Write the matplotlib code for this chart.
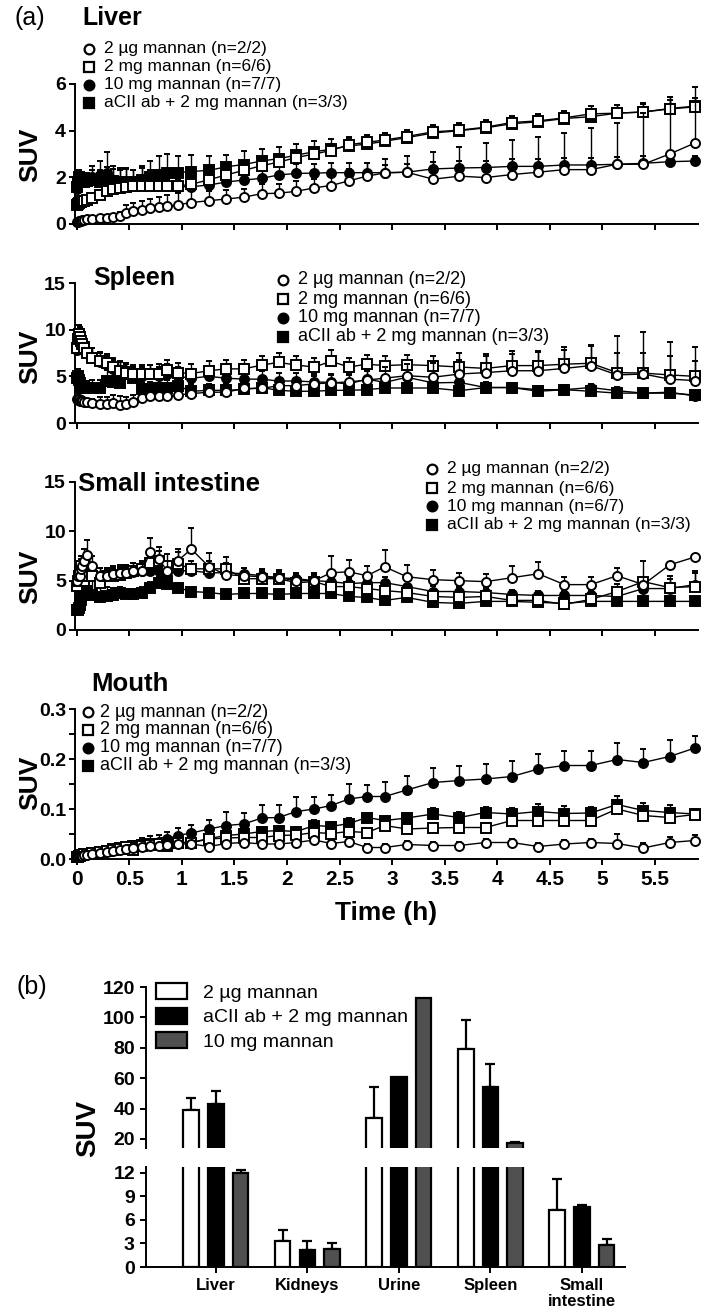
import numpy as np
import matplotlib
matplotlib.use("Agg")
import matplotlib.pyplot as plt
from matplotlib.lines import Line2D

# time points (h) shared by the four time-activity panels
t = [0.0, 0.01, 0.02, 0.03, 0.04, 0.05, 0.07, 0.10, 0.15, 0.22, 0.29, 0.35, 0.41, 0.47, 0.54,
     0.62, 0.70, 0.78, 0.86, 0.96, 1.09, 1.26, 1.42, 1.59, 1.76, 1.92, 2.09, 2.26, 2.42, 2.59,
     2.76, 2.93, 3.14, 3.39, 3.64, 3.89, 4.14, 4.39, 4.64, 4.89, 5.14, 5.39, 5.64, 5.88]

# Liver
liv_2ug = [0.08, 0.10, 0.12, 0.14, 0.15, 0.17, 0.18, 0.20, 0.22, 0.25, 0.27, 0.30, 0.35, 0.47, 0.54,
           0.60, 0.67, 0.72, 0.76, 0.82, 0.92, 1.00, 1.07, 1.15, 1.30, 1.32, 1.40, 1.55, 1.65, 1.85,
           2.05, 2.19, 2.22, 1.92, 2.05, 1.99, 2.12, 2.22, 2.33, 2.33, 2.56, 2.56, 3.00, 3.47]
liv_2ug_err = [0, 0, 0, 0, 0, 0, 0, 0.02, 0.05, 0.05, 0.1, 0.1, 0.15, 0.35, 0.35,
               0.4, 0.4, 0.45, 0.5, 0.5, 0.5, 0.4, 0.4, 0.35, 0.4, 0.4, 0.45, 0.4, 0.45, 0.5,
               0.55, 0.6, 0.7, 1.16, 1.25, 1.5, 1.47, 1.5, 1.57, 1.8, 1.78, 2.2, 2.45, 2.4]
liv_2mg = [0.80, 0.85, 0.90, 0.95, 0.95, 1.00, 1.00, 1.05, 1.10, 1.25, 1.40, 1.50, 1.55, 1.60, 1.62,
           1.65, 1.65, 1.62, 1.62, 1.63, 1.70, 1.90, 2.10, 2.30, 2.50, 2.65, 2.85, 3.00, 3.15, 3.40,
           3.50, 3.60, 3.75, 3.95, 4.02, 4.15, 4.35, 4.42, 4.55, 4.72, 4.75, 4.80, 4.93, 5.02]
liv_2mg_err = [0.1, 0.1, 0.1, 0.1, 0.1, 0.1, 0.1, 0.1, 0.15, 0.2, 0.2, 0.25, 0.25, 0.3, 0.3,
               0.3, 0.3, 0.3, 0.3, 0.3, 0.3, 0.3, 0.3, 0.3, 0.3, 0.3, 0.3, 0.3, 0.3, 0.3,
               0.3, 0.3, 0.3, 0.3, 0.3, 0.3, 0.3, 0.3, 0.3, 0.35, 0.35, 0.35, 0.4, 0.4]
liv_10mg = [1.50, 1.70, 1.80, 1.90, 1.85, 1.90, 1.85, 1.90, 2.00, 2.10, 2.20, 1.90, 1.80, 1.75, 1.70,
            1.70, 1.70, 1.65, 1.65, 1.60, 1.60, 1.67, 1.80, 1.88, 1.96, 2.10, 2.17, 2.18, 2.20, 2.20,
            2.20, 2.20, 2.22, 2.36, 2.40, 2.42, 2.47, 2.47, 2.53, 2.53, 2.56, 2.60, 2.67, 2.70]
liv_10mg_err = [0.3, 0.3, 0.3, 0.3, 0.3, 0.3, 0.3, 0.3, 0.5, 0.6, 0.9, 0.6, 0.6, 0.6, 0.6,
                0.7, 0.6, 0.6, 0.5, 0.6, 0.6, 0.5, 0.5, 0.5, 0.4, 0.4, 0.4, 0.4, 0.4, 0.4,
                0.4, 0.35, 0.35, 0.3, 0.3, 0.3, 0.3, 0.3, 0.3, 0.3, 0.3, 0.3, 0.25, 0.2]
liv_acii = [1.60, 1.80, 2.00, 1.90, 1.80, 1.90, 1.80, 1.85, 1.90, 1.80, 1.85, 1.85, 1.80, 1.80, 1.80,
            1.90, 2.00, 2.10, 2.20, 2.20, 2.25, 2.30, 2.45, 2.55, 2.70, 2.80, 2.95, 3.10, 3.20, 3.35,
            3.42, 3.55, 3.70, 3.90, 4.00, 4.12, 4.30, 4.38, 4.52, 4.60, 4.75, 4.80, 4.95, 5.05]
liv_acii_err = [0.3, 0.3, 0.3, 0.3, 0.3, 0.3, 0.3, 0.3, 0.4, 0.5, 0.6, 0.5, 0.5, 0.6, 0.5,
                0.6, 0.7, 0.8, 0.8, 0.7, 0.7, 0.6, 0.5, 0.6, 0.5, 0.5, 0.5, 0.45, 0.45, 0.4,
                0.4, 0.35, 0.35, 0.3, 0.3, 0.3, 0.3, 0.3, 0.3, 0.35, 0.35, 0.4, 0.5, 0.35]

# Spleen
spl_2ug = [2.6, 2.5, 2.6, 2.4, 2.5, 2.4, 2.3, 2.3, 2.1, 2.0, 2.0, 2.1, 1.9, 2.0, 2.2,
           2.7, 2.85, 2.85, 2.9, 3.0, 3.15, 3.3, 3.3, 3.7, 3.7, 4.0, 4.0, 4.2, 4.3, 4.4,
           4.6, 4.8, 5.07, 4.9, 5.25, 5.4, 5.6, 5.6, 5.85, 6.15, 5.15, 5.25, 4.7, 4.55]
spl_2ug_err = [0.3, 0.3, 0.3, 0.3, 0.3, 0.3, 0.3, 0.3, 0.5, 0.8, 0.8, 0.9, 1.0, 0.8, 0.8,
               0.6, 0.5, 0.5, 0.5, 0.5, 0.5, 0.5, 0.6, 0.6, 0.6, 0.6, 0.7, 0.8, 0.8, 0.9,
               1.0, 1.2, 1.2, 1.5, 1.5, 1.8, 1.8, 2.0, 2.0, 2.2, 4.2, 4.45, 4.0, 3.6]
spl_2mg = [8.0, 9.0, 9.5, 9.2, 8.8, 8.5, 8.0, 7.5, 7.0, 6.6, 6.4, 6.0, 5.6, 5.4, 5.2,
           5.2, 5.2, 5.3, 5.7, 5.4, 5.3, 5.6, 5.8, 5.8, 6.2, 6.5, 6.2, 6.0, 6.6, 6.0,
           6.3, 6.15, 6.25, 6.15, 6.0, 5.85, 6.15, 6.15, 6.3, 6.4, 5.4, 5.35, 5.15, 5.0]
spl_2mg_err = [1.0, 1.0, 1.0, 1.0, 1.0, 1.0, 1.0, 1.0, 1.0, 1.0, 1.0, 1.0, 1.0, 1.0, 1.0,
               1.0, 1.0, 1.0, 1.0, 1.0, 1.0, 1.0, 1.0, 1.0, 1.0, 1.0, 1.0, 1.0, 1.2, 1.0,
               1.0, 1.0, 1.0, 1.0, 1.5, 1.5, 1.6, 1.6, 1.8, 1.8, 2.1, 2.1, 2.0, 1.6]
spl_10mg = [7.8, 8.5, 9.0, 8.8, 8.5, 8.0, 7.8, 7.5, 7.0, 6.5, 6.2, 5.8, 5.5, 5.3, 5.0,
            5.0, 5.2, 5.0, 5.3, 5.0, 4.8, 5.0, 4.8, 4.7, 4.7, 4.5, 4.5, 4.4, 4.35, 4.2,
            4.7, 4.35, 4.9, 4.3, 4.35, 3.8, 3.8, 3.57, 3.57, 3.8, 3.46, 3.2, 3.3, 2.9]
spl_10mg_err = [1.5, 1.5, 1.5, 1.5, 1.5, 1.5, 1.2, 1.2, 1.0, 1.0, 1.0, 1.0, 1.0, 1.0, 1.0,
                1.0, 1.0, 1.0, 1.0, 1.0, 1.0, 1.0, 1.0, 1.0, 0.9, 0.9, 0.9, 0.9, 0.9, 0.9,
                0.9, 0.8, 0.8, 0.8, 0.6, 0.5, 0.5, 0.4, 0.4, 0.4, 0.4, 0.3, 0.3, 0.3]
spl_acii = [4.8, 5.0, 4.6, 4.3, 4.0, 3.8, 3.7, 3.7, 3.8, 3.8, 4.5, 4.4, 4.3, 5.5, 4.8,
            3.6, 3.6, 3.8, 3.8, 4.0, 3.4, 3.5, 3.5, 3.6, 3.8, 3.5, 3.4, 3.4, 3.5, 3.5,
            3.57, 3.75, 3.75, 3.75, 3.46, 3.8, 3.8, 3.4, 3.57, 3.4, 3.2, 3.2, 3.2, 3.0]
spl_acii_err = [0.8, 0.8, 0.8, 0.8, 0.8, 0.8, 0.8, 0.8, 0.8, 0.8, 1.2, 1.0, 1.0, 0.8, 1.2,
                0.8, 0.8, 0.8, 0.8, 0.8, 0.8, 0.7, 0.7, 0.7, 0.7, 0.7, 0.7, 0.7, 0.7, 0.7,
                0.6, 0.6, 0.6, 0.6, 0.6, 0.6, 0.5, 0.5, 0.5, 0.5, 0.4, 0.4, 0.4, 0.4]

# Small intestine
si_2ug = [5.0, 5.5, 6.0, 5.5, 6.2, 6.5, 7.0, 7.6, 6.5, 5.5, 5.5, 5.7, 5.8, 5.8, 6.0,
          6.0, 7.9, 7.2, 6.0, 7.0, 8.2, 6.4, 5.6, 5.5, 5.4, 5.3, 5.0, 5.0, 5.8, 5.9,
          5.5, 6.4, 5.4, 5.1, 5.0, 4.9, 5.3, 5.7, 4.6, 4.6, 5.5, 4.6, 6.6, 7.4]
si_2ug_err = [1.0, 1.0, 1.0, 1.0, 1.0, 1.0, 1.2, 1.5, 1.0, 0.8, 0.8, 0.8, 0.8, 0.8, 0.8,
              0.8, 1.4, 1.2, 1.0, 1.2, 2.1, 1.4, 1.2, 0.8, 0.8, 0.8, 0.8, 0.8, 1.7, 1.2,
              1.0, 1.7, 1.2, 1.0, 0.8, 0.8, 1.2, 1.2, 0.8, 0.8, 0.8, 0.8, 0.0, 0.0]
si_2mg = [4.5, 5.0, 5.5, 6.0, 6.5, 5.5, 5.0, 5.5, 5.5, 4.8, 5.5, 5.5, 5.6, 5.8, 6.0,
          6.2, 6.8, 7.0, 6.5, 6.7, 6.2, 6.2, 6.2, 5.2, 5.2, 5.2, 4.8, 4.9, 4.4, 4.4,
          4.2, 4.0, 3.8, 3.4, 3.3, 3.4, 3.0, 3.0, 2.6, 3.1, 3.9, 4.9, 4.3, 4.4]
si_2mg_err = [1.0, 1.0, 1.0, 1.0, 1.0, 1.0, 1.0, 1.0, 1.0, 1.0, 0.8, 0.8, 0.8, 0.8, 0.8,
              0.8, 1.0, 1.0, 1.2, 1.2, 0.8, 0.8, 1.2, 0.8, 0.8, 0.8, 0.8, 0.8, 0.8, 0.8,
              0.8, 0.8, 0.8, 0.8, 0.6, 0.6, 0.6, 0.6, 0.6, 0.6, 0.8, 2.1, 1.2, 1.4]
si_10mg = [4.5, 5.0, 5.5, 5.0, 5.5, 5.0, 5.5, 6.0, 5.8, 5.5, 5.5, 5.5, 5.6, 5.8, 5.9,
           6.0, 6.0, 6.0, 5.5, 6.0, 6.0, 5.8, 5.8, 5.7, 5.5, 5.3, 5.2, 5.0, 4.9, 4.7,
           4.8, 4.8, 4.4, 3.9, 3.9, 3.8, 3.6, 3.5, 3.5, 3.5, 3.4, 4.2, 4.2, 4.6]
si_10mg_err = [1.0, 1.0, 1.0, 1.0, 1.0, 1.0, 1.0, 1.0, 0.8, 0.8, 0.6, 0.6, 0.6, 0.6, 0.6,
               0.6, 0.8, 0.8, 0.8, 0.6, 0.6, 0.6, 0.6, 0.6, 0.6, 0.6, 0.6, 0.6, 0.6, 0.6,
               0.6, 0.6, 0.6, 0.6, 0.5, 0.5, 0.5, 0.5, 0.5, 0.5, 0.5, 0.8, 1.0, 1.4]
si_acii = [2.0, 2.0, 2.2, 2.5, 3.0, 4.0, 3.5, 4.0, 3.5, 3.3, 3.4, 3.5, 3.8, 3.6, 3.6,
           3.8, 4.3, 4.8, 4.7, 4.3, 3.9, 3.8, 3.6, 3.7, 3.7, 3.6, 3.7, 3.7, 3.7, 3.4,
           3.3, 3.0, 3.3, 2.8, 2.7, 2.9, 2.9, 2.8, 2.7, 2.9, 2.9, 2.9, 2.9, 2.9]
si_acii_err = [0.5, 0.5, 0.5, 0.5, 0.8, 0.8, 0.8, 0.8, 1.5, 1.2, 1.0, 0.8, 0.6, 0.6, 0.6,
               0.6, 0.6, 0.6, 0.6, 0.5, 0.5, 0.5, 0.5, 0.5, 0.5, 0.5, 0.5, 0.5, 0.5, 0.5,
               0.5, 0.5, 0.5, 0.4, 0.4, 0.4, 0.4, 0.4, 0.4, 0.4, 0.4, 0.4, 0.4, 0.4]

# Mouth
mo_2ug = [0.005, 0.005, 0.006, 0.006, 0.007, 0.007, 0.008, 0.009, 0.010, 0.012, 0.014, 0.016, 0.018, 0.020, 0.022,
          0.024, 0.026, 0.027, 0.028, 0.030, 0.030, 0.025, 0.031, 0.033, 0.030, 0.030, 0.033, 0.038, 0.031, 0.035,
          0.023, 0.023, 0.029, 0.027, 0.027, 0.033, 0.033, 0.025, 0.030, 0.033, 0.031, 0.022, 0.033, 0.037]
mo_2ug_err = [0.002, 0.002, 0.002, 0.002, 0.002, 0.002, 0.002, 0.002, 0.003, 0.003, 0.003, 0.004, 0.004, 0.004, 0.005,
              0.005, 0.005, 0.005, 0.005, 0.006, 0.006, 0.006, 0.006, 0.006, 0.006, 0.006, 0.006, 0.006, 0.007, 0.007,
              0.007, 0.007, 0.007, 0.007, 0.008, 0.008, 0.008, 0.008, 0.008, 0.008, 0.020, 0.010, 0.012, 0.012]
mo_2mg = [0.004, 0.005, 0.006, 0.007, 0.008, 0.009, 0.010, 0.011, 0.013, 0.015, 0.017, 0.019, 0.021, 0.024, 0.018,
          0.026, 0.028, 0.030, 0.026, 0.033, 0.033, 0.040, 0.042, 0.043, 0.043, 0.047, 0.048, 0.053, 0.051, 0.055,
          0.053, 0.067, 0.060, 0.062, 0.063, 0.063, 0.077, 0.077, 0.077, 0.077, 0.100, 0.087, 0.083, 0.089]
mo_2mg_err = [0.002, 0.002, 0.002, 0.002, 0.002, 0.002, 0.002, 0.002, 0.003, 0.003, 0.004, 0.004, 0.005, 0.005, 0.005,
              0.006, 0.006, 0.006, 0.006, 0.007, 0.007, 0.008, 0.008, 0.008, 0.008, 0.009, 0.009, 0.009, 0.010, 0.010,
              0.010, 0.010, 0.010, 0.010, 0.010, 0.010, 0.010, 0.010, 0.010, 0.010, 0.012, 0.012, 0.012, 0.012]
mo_10mg = [0.005, 0.006, 0.006, 0.007, 0.008, 0.008, 0.009, 0.010, 0.012, 0.014, 0.017, 0.020, 0.023, 0.025, 0.027,
           0.030, 0.033, 0.035, 0.040, 0.047, 0.052, 0.060, 0.067, 0.070, 0.082, 0.083, 0.095, 0.100, 0.107, 0.120,
           0.125, 0.125, 0.138, 0.153, 0.157, 0.160, 0.165, 0.180, 0.187, 0.187, 0.199, 0.193, 0.205, 0.222]
mo_10mg_err = [0.002, 0.002, 0.002, 0.002, 0.002, 0.002, 0.002, 0.003, 0.004, 0.005, 0.006, 0.007, 0.008, 0.009, 0.010,
               0.012, 0.013, 0.014, 0.015, 0.015, 0.017, 0.018, 0.027, 0.022, 0.026, 0.025, 0.030, 0.025, 0.022, 0.030,
               0.023, 0.030, 0.029, 0.030, 0.029, 0.030, 0.032, 0.030, 0.030, 0.030, 0.033, 0.027, 0.033, 0.025]
mo_acii = [0.004, 0.005, 0.006, 0.007, 0.008, 0.009, 0.010, 0.011, 0.013, 0.015, 0.017, 0.020, 0.022, 0.024, 0.026,
           0.028, 0.030, 0.031, 0.032, 0.033, 0.033, 0.041, 0.047, 0.050, 0.055, 0.057, 0.055, 0.067, 0.065, 0.071,
           0.083, 0.077, 0.082, 0.090, 0.083, 0.093, 0.090, 0.095, 0.091, 0.092, 0.109, 0.097, 0.093, 0.090]
mo_acii_err = [0.002, 0.002, 0.002, 0.002, 0.002, 0.002, 0.002, 0.002, 0.003, 0.003, 0.004, 0.004, 0.005, 0.005, 0.006,
               0.006, 0.006, 0.006, 0.007, 0.007, 0.008, 0.009, 0.009, 0.010, 0.010, 0.010, 0.010, 0.012, 0.010, 0.012,
               0.010, 0.010, 0.010, 0.012, 0.012, 0.012, 0.012, 0.015, 0.015, 0.012, 0.018, 0.015, 0.015, 0.010]

# panel (b): SUV at end of scan
organs = ["Liver", "Kidneys", "Urine", "Spleen", "Small\nintestine"]
bar_2ug = [39, 3.3, 34, 79, 7.2]
bar_2ug_err = [8, 1.4, 20, 19, 4.0]
bar_acii = [43, 2.2, 61, 54, 7.6]
bar_acii_err = [8.5, 1.1, 0, 15, 0.3]
bar_10mg = [12, 2.3, 113, 17.5, 2.8]
bar_10mg_err = [0.3, 0.7, 0, 0.7, 0.8]

MAIN = ["Liberation Sans", "DejaVu Sans"]
NARROW = ["Liberation Sans Narrow", "Liberation Sans", "DejaVu Sans"]
plt.rcParams["font.family"] = MAIN

W, H = 709, 1315
fig = plt.figure(figsize=(W / 100, H / 100), dpi=100)


def fx(px):
    return px / W


def fy(py):
    return 1 - py / H


def add_ax(left, top, right, bottom):
    return fig.add_axes([fx(left), fy(bottom), (right - left) / W, (bottom - top) / H])


def style_axis(ax):
    for s in ["top", "right"]:
        ax.spines[s].set_visible(False)
    for s in ["left", "bottom"]:
        ax.spines[s].set_linewidth(1.4)
    ax.tick_params(direction="out", length=4.5, width=1.4)
    for lab in ax.get_xticklabels() + ax.get_yticklabels():
        lab.set_fontweight("bold")
        lab.set_family(NARROW)


styles = [("o", "white"), ("s", "white"), ("o", "black"), ("s", "black")]
names = ["2 µg mannan", "2 mg mannan", "10 mg mannan", "aCII ab + 2 mg mannan"]


def time_panel(ax, data, ylim, yticks, yticklabels, xlabels=False):
    # filled series first so the open markers sit on top
    for k in [3, 2, 1, 0]:
        vals, errs = data[k]
        mk, face = styles[k]
        ax.errorbar(t, vals, yerr=[np.zeros(len(errs)), errs], color="black", lw=1.0,
                    marker=mk, mfc=face, mec="black", ms=6.5, mew=1.4,
                    ecolor="black", elinewidth=1.0, capsize=2.5, capthick=1.0,
                    clip_on=False, zorder=3 + (3 - k))
    ax.set_xlim(-0.016, 5.91)
    ax.set_ylim(*ylim)
    ax.set_xticks(np.arange(0, 5.6, 0.5))
    if xlabels:
        ax.set_xticklabels(["0", "0.5", "1", "1.5", "2", "2.5", "3", "3.5", "4", "4.5", "5", "5.5"],
                           fontsize=15)
    else:
        ax.set_xticklabels([])
    ax.set_yticks(yticks)
    ax.set_yticklabels(yticklabels, fontsize=14)
    style_axis(ax)
    ax.tick_params(axis="y", pad=2)


def legend_block(xm, xt, ys, counts, size, family):
    for k in range(4):
        mk, face = styles[k]
        fig.add_artist(Line2D([fx(xm)], [fy(ys[k])], marker=mk, mfc=face, mec="black",
                              ms=7, mew=1.6, ls="none", transform=fig.transFigure))
        fig.text(fx(xt), fy(ys[k]), names[k] + " " + counts[k], ha="left", va="center",
                 fontsize=size, family=family)


ax_liv = add_ax(75, 84, 698, 224)
ax_spl = add_ax(75, 283, 698, 423)
ax_si = add_ax(75, 482, 698, 630)
ax_mo = add_ax(75, 709, 698, 859)

time_panel(ax_liv, [(liv_2ug, liv_2ug_err), (liv_2mg, liv_2mg_err), (liv_10mg, liv_10mg_err),
                    (liv_acii, liv_acii_err)], (0, 6), [0, 2, 4, 6], ["0", "2", "4", "6"])
time_panel(ax_spl, [(spl_2ug, spl_2ug_err), (spl_2mg, spl_2mg_err), (spl_10mg, spl_10mg_err),
                    (spl_acii, spl_acii_err)], (0, 15), [0, 5, 10, 15], ["0", "5", "10", "15"])
time_panel(ax_si, [(si_2ug, si_2ug_err), (si_2mg, si_2mg_err), (si_10mg, si_10mg_err),
                   (si_acii, si_acii_err)], (0, 15), [0, 5, 10, 15], ["0", "5", "10", "15"])
time_panel(ax_mo, [(mo_2ug, mo_2ug_err), (mo_2mg, mo_2mg_err), (mo_10mg, mo_10mg_err),
                   (mo_acii, mo_acii_err)], (0, 0.3), [0, 0.1, 0.2, 0.3],
           ["0.0", "0.1", "0.2", "0.3"], xlabels=True)
ax_mo.set_yticks([0.05, 0.15, 0.25], minor=True)
ax_mo.tick_params(which="minor", direction="out", length=4.5, width=1.4)

counts_a = ["(n=2/2)", "(n=6/6)", "(n=7/7)", "(n=3/3)"]
counts_si = ["(n=2/2)", "(n=6/6)", "(n=6/7)", "(n=3/3)"]
legend_block(89, 104, [49, 67, 85, 103], counts_a, 12.5, MAIN)
legend_block(283, 298, [280, 299, 318, 337], counts_a, 13, MAIN)
legend_block(432, 447, [469, 488, 506, 525], counts_si, 12.5, MAIN)
legend_block(88, 100, [712, 730, 748, 766], counts_a, 13, NARROW)

# panel titles and labels
fig.text(fx(14), fy(18), "(a)", fontsize=18, ha="left", va="center")
fig.text(fx(82), fy(18), "Liver", fontsize=18, fontweight="bold", ha="left", va="center")
fig.text(fx(93), fy(278), "Spleen", fontsize=18, fontweight="bold", ha="left", va="center")
fig.text(fx(78), fy(484), "Small intestine", fontsize=18.5, fontweight="bold", ha="left", va="center")
fig.text(fx(91), fy(684), "Mouth", fontsize=18.5, fontweight="bold", ha="left", va="center")
for yc in [155, 357, 577, 783]:
    fig.text(fx(30), fy(yc), "SUV", fontsize=19, fontweight="bold", rotation=90,
             ha="center", va="center")
fig.text(fx(386), fy(913), "Time (h)", fontsize=19, fontweight="bold", ha="center", va="center")

# panel (b): broken y axis
fig.text(fx(16), fy(987), "(b)", fontsize=18, ha="left", va="center")
fig.text(fx(88), fy(1128), "SUV", fontsize=20, fontweight="bold", rotation=90,
         ha="center", va="center")

ax_up = add_ax(146, 987, 625, 1148)
ax_lo = add_ax(146, 1167, 625, 1267)
x = np.arange(len(organs))
off, bw = 0.27, 0.17
bar_sets = [(x - off, bar_2ug, bar_2ug_err, "white", "2 µg mannan"),
            (x, bar_acii, bar_acii_err, "black", "aCII ab + 2 mg mannan"),
            (x + off, bar_10mg, bar_10mg_err, "#505050", "10 mg mannan")]
for ax in [ax_up, ax_lo]:
    for pos, vals, errs, col, lab in bar_sets:
        ax.bar(pos, vals, bw, color=col, edgecolor="black", lw=1.6, label=lab, zorder=2)
        errs = np.array(errs)
        m = errs > 0
        ax.errorbar(pos[m], np.array(vals)[m], yerr=[np.zeros(m.sum()), errs[m]], fmt="none",
                    ecolor="black", elinewidth=1.6, capsize=3.3, capthick=1.6, zorder=1)
    ax.set_xlim(-0.763, 4.47)

ax_up.set_ylim(14, 120)
ax_up.set_yticks([20, 40, 60, 80, 100, 120])
ax_up.set_xticks([])
ax_up.spines["bottom"].set_visible(False)
style_axis(ax_up)
ax_up.set_yticklabels(["20", "40", "60", "80", "100", "120"], fontsize=14, fontweight="bold",
                      family=NARROW)

ax_lo.set_ylim(0, 12.7)
ax_lo.set_yticks([0, 3, 6, 9, 12])
ax_lo.set_yticklabels(["0", "3", "6", "9", "12"], fontsize=14, fontweight="bold", family=NARROW)
ax_lo.set_xticks(x)
ax_lo.set_xticklabels(organs, fontsize=12, fontweight="bold", family=NARROW, linespacing=1.1)
style_axis(ax_lo)

leg = ax_up.legend(loc="upper left", bbox_to_anchor=(fx(156), fy(983)),
                   bbox_transform=fig.transFigure, frameon=False, fontsize=14,
                   handlelength=1.6, handleheight=0.9, handletextpad=0.8, labelspacing=0.3,
                   borderpad=0, borderaxespad=0)

fig.savefig("out.png", dpi=100)
